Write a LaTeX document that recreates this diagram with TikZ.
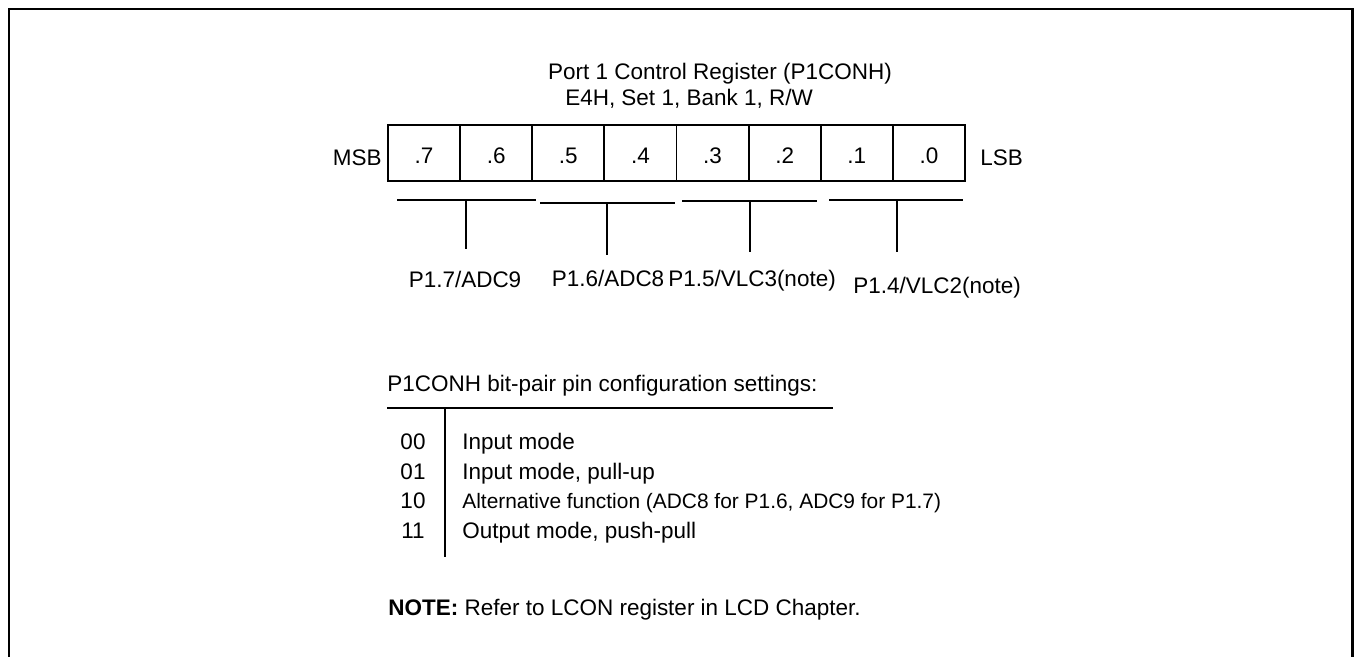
\documentclass[tikz,border=0pt]{standalone}
\usepackage{fontspec}
\setmainfont{Liberation Sans}
\usetikzlibrary{positioning,calc}
\definecolor{ink}{HTML}{000000}
\newcommand\regfont{\fontsize{12.8}{15}\selectfont}
\newcommand\altfont{\fontsize{11.9}{14}\selectfont}
\tikzset{
  bitcell/.style ={draw=ink, line width=1.1pt, minimum width=1.4425cm,
                   minimum height=1.12cm, inner sep=0pt, font=\regfont,
                   text height=12pt, text depth=0pt},
  txt/.style     ={inner sep=0pt, anchor=base, font=\regfont, text=ink},
  ltxt/.style    ={txt, anchor=base west},
  brk/.style     ={draw=ink, line width=0.85pt},
  frame/.style   ={draw=ink, line width=1.7pt},
}

\begin{document}
\begin{tikzpicture}[x=0.02cm,y=-0.02cm]
  \useasboundingbox (0,0) rectangle (1355,656);
  \draw[frame] (9,660) -- (9,9) -- (1352,9) -- (1352,660);

  % header
  \node[txt] (title) at (720,79) {Port 1 Control Register (P1CONH)};
  \node[txt] (addr)  at (689,105) {E4H, Set 1, Bank 1, R/W};

  % register cells
  \foreach \k in {0,...,7} {
    \pgfmathtruncatemacro\bit{7-\k}
    \node[bitcell] (b\bit) at ({388+72.125*(\k+0.5)},153) {.\bit};
  }
  \node[txt,anchor=base east] (msb) at (382,165) {MSB};
  \node[txt,anchor=base west] (lsb) at (980,165) {LSB};

  % bit-pair brackets
  \foreach \g/\xl/\xr/\yb/\xs/\ys in {0/397/536/200/466/249, 1/540/675/203/607/255,
                                      2/682/817/201/750/252, 3/829/963/200/897/252} {
    \coordinate (g\g l) at (\xl,\yb);
    \coordinate (g\g r) at (\xr,\yb);
    \coordinate (g\g m) at (\xs,\yb);
    \coordinate (g\g e) at (\xs,\ys);
    \draw[brk] (g\g l) -- (g\g r);
    \draw[brk] (g\g m) -- (g\g e);
  }
  \node[txt] (p17) at (465,287) {P1.7/ADC9};
  \node[txt] (p16) at (608,286) {P1.6/ADC8};
  \node[txt] (p15) at (752,286) {P1.5/VLC3(note)};
  \node[txt] (p14) at (937,293) {P1.4/VLC2(note)};

  % settings table
  \node[ltxt] (cfg) at (387,391) {P1CONH bit-pair pin configuration settings:};
  \coordinate (hl) at (387,408);
  \coordinate (hr) at (833,408);
  \coordinate (vt) at (445,408);
  \coordinate (vb) at (445,557);
  \draw[brk] (hl) -- (hr);
  \draw[brk] (vt) -- (vb);

  \node[txt]  (c00) at (413,449) {00};
  \node[ltxt] (m00) at (462,449) {Input mode};
  \node[txt]  (c01) at (413,479) {01};
  \node[ltxt] (m01) at (462,479) {Input mode, pull-up};
  \node[txt]  (c10) at (413,508) {10};
  \node[ltxt,font=\altfont] (m10) at (462,508) {Alternative function (ADC8 for P1.6, ADC9 for P1.7)};
  \node[txt]  (c11) at (413,538) {11};
  \node[ltxt] (m11) at (462,538) {Output mode, push-pull};

  \node[ltxt] (note) at (388,615) {\textbf{NOTE:} Refer to LCON register in LCD Chapter.};
\end{tikzpicture}
\end{document}
